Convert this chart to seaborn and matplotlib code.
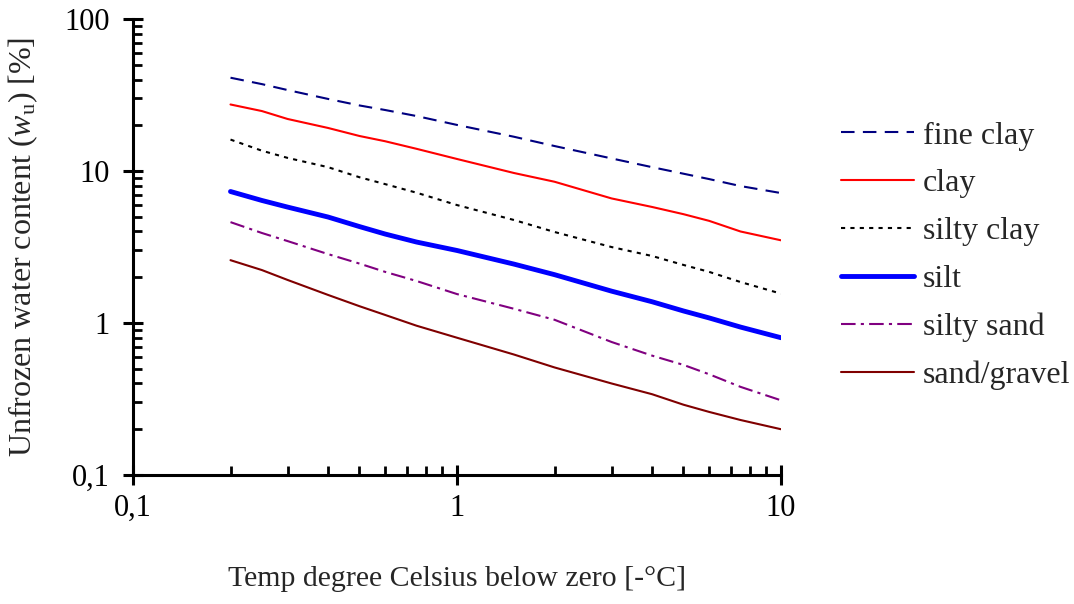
import numpy as np
import pandas as pd
import matplotlib
matplotlib.use("Agg")
import matplotlib.pyplot as plt
from matplotlib.ticker import FixedLocator, LogLocator, NullFormatter
import seaborn as sns

# Temperature below zero [°C]
temps = [0.2, 0.25, 0.3, 0.4, 0.5, 0.6, 0.75, 1.0, 1.5, 2.0, 3.0, 4.0, 5.0, 6.0, 7.5, 10.0]

# Unfrozen water content [%] per soil type
fine_clay = [41.1, 37.3, 34.1, 29.8, 27.0, 25.2, 23.0, 20.1, 16.8, 14.6, 12.1, 10.6, 9.6, 8.85, 7.96, 7.16]
clay = [27.4, 24.8, 22.0, 19.2, 17.0, 15.7, 14.0, 12.0, 9.7, 8.5, 6.6, 5.8, 5.2, 4.7, 4.0, 3.5]
silty_clay = [16.1, 13.6, 12.2, 10.6, 9.1, 8.2, 7.2, 5.97, 4.76, 3.97, 3.16, 2.76, 2.41, 2.17, 1.86, 1.56]
silt = [7.33, 6.40, 5.79, 4.98, 4.31, 3.85, 3.41, 3.00, 2.44, 2.08, 1.62, 1.38, 1.20, 1.08, 0.94, 0.80]
silty_sand = [4.61, 3.91, 3.46, 2.84, 2.46, 2.17, 1.89, 1.55, 1.24, 1.05, 0.75, 0.61, 0.53, 0.46, 0.38, 0.31]
sand_gravel = [2.59, 2.23, 1.92, 1.53, 1.29, 1.13, 0.96, 0.80, 0.62, 0.51, 0.40, 0.34, 0.29, 0.26, 0.23, 0.20]

soil_names = ["fine clay", "clay", "silty clay", "silt", "silty sand", "sand/gravel"]
series = [fine_clay, clay, silty_clay, silt, silty_sand, sand_gravel]

x_ticks = [0.1, 1, 10]
x_tick_labels = ["0,1", "1", "10"]
y_ticks = [0.1, 1, 10, 100]
y_tick_labels = ["0,1", "1", "10", "100"]

styles = {
    "fine clay":   dict(color="#000080", lw=1.5, ls=(0, (6.5, 4))),
    "clay":        dict(color="#ff0000", lw=1.5, ls="-"),
    "silty clay":  dict(color="#000000", lw=1.5, ls=(0, (2, 2.5))),
    "silt":        dict(color="#0000ff", lw=3.5, ls="-"),
    "silty sand":  dict(color="#800080", lw=1.5, ls=(0, (7, 2.5, 1.5, 2.5))),
    "sand/gravel": dict(color="#800000", lw=1.5, ls="-"),
}

df = pd.concat(
    [pd.DataFrame({"temp": temps, "wu": vals, "soil": name})
     for name, vals in zip(soil_names, series)],
    ignore_index=True,
)

sns.set_theme(style="ticks")
plt.rcParams["font.family"] = ["Liberation Serif", "DejaVu Serif"]
plt.rcParams["mathtext.fontset"] = "custom"
plt.rcParams["mathtext.rm"] = "Liberation Serif"
plt.rcParams["mathtext.it"] = "Liberation Serif:italic"

fig = plt.figure(figsize=(10.74, 6.04), dpi=100)
ax = fig.add_axes([0.1238, 0.2136, 0.6034, 0.7549])

for name in soil_names:
    st = styles[name]
    sns.lineplot(data=df[df["soil"] == name], x="temp", y="wu", ax=ax,
                 color=st["color"], linewidth=st["lw"], linestyle=st["ls"],
                 label=name, errorbar=None)

ax.set_xscale("log")
ax.set_yscale("log")
ax.set_xlim(0.1, 10)
ax.set_ylim(0.1, 100)

ax.xaxis.set_major_locator(FixedLocator(x_ticks))
ax.set_xticklabels(x_tick_labels)
ax.yaxis.set_major_locator(FixedLocator(y_ticks))
ax.set_yticklabels(y_tick_labels)
ax.xaxis.set_minor_locator(LogLocator(base=10, subs=np.arange(2, 10)))
ax.yaxis.set_minor_locator(LogLocator(base=10, subs=np.arange(2, 10)))
ax.xaxis.set_minor_formatter(NullFormatter())
ax.yaxis.set_minor_formatter(NullFormatter())

for side in ["top", "right"]:
    ax.spines[side].set_visible(False)
for side in ["left", "bottom"]:
    ax.spines[side].set_linewidth(2.2)
    ax.spines[side].set_color("black")

ax.tick_params(which="both", bottom=True, left=True, top=False, right=False)
ax.tick_params(which="major", direction="inout", length=15, width=2.2,
               labelsize=22, pad=9, colors="black")
ax.tick_params(which="minor", direction="in", length=6.5, width=2.0, colors="black")
ax.tick_params(axis="x", which="major", pad=6)

ax.set_xlabel("Temp degree Celsius below zero [-°C]", fontsize=21.5, va="top")
ax.xaxis.set_label_coords(0.5, -0.2)
ax.set_ylabel(r"Unfrozen water content ($\mathit{w}_\mathrm{u}$) [%]", fontsize=23)
ax.yaxis.set_label_coords(-0.143, 0.5)

leg = ax.legend(loc="upper left", bbox_to_anchor=(1.073, 0.804), frameon=False,
                fontsize=23, handlelength=2.29, handletextpad=0.28,
                labelspacing=0.58, borderaxespad=0)

fig.savefig("out.png", dpi=100)
